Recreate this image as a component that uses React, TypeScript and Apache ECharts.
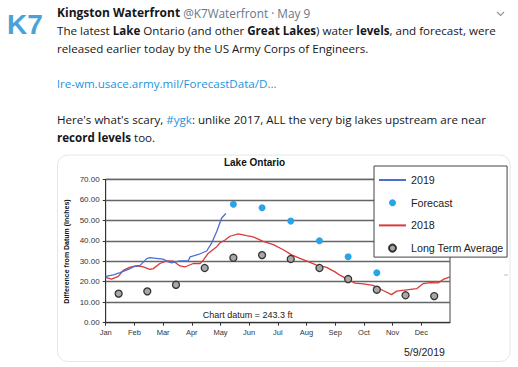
import React, { useEffect, useRef } from "react";
import * as echarts from "echarts";

const months = ["Jan", "Feb", "Mar", "Apr", "May", "Jun", "Jul", "Aug", "Sep", "Oct", "Nov", "Dec"];
const yTicks = [0, 10, 20, 30, 40, 50, 60, 70];

// 2019 observed (x in months since Jan 1)
const obs2019X = [0, 0.27, 0.5, 0.79, 0.96, 1.2, 1.43, 1.54, 1.83, 2.0, 2.18, 2.3, 2.59, 2.88, 2.94, 3.23, 3.52, 3.69, 3.87, 4.04, 4.19];
const obs2019Y = [22.6, 23.4, 24.4, 26, 27.2, 28, 31.3, 31.8, 31.3, 31, 29.7, 29.2, 30.2, 30.2, 32.1, 33.3, 35, 38.8, 44.5, 51.1, 53.3];

// 2018
const obs2018X = [0, 0.2, 0.44, 0.61, 0.85, 1.08, 1.31, 1.54, 1.66, 1.89, 2.12, 2.36, 2.59, 2.76, 3.05, 3.29, 3.4, 3.57, 3.87, 3.98, 4.16, 4.33, 4.62, 4.91, 5.14, 5.49, 5.84, 6.19, 6.48, 6.77, 7.06, 7.35, 7.7, 7.99, 8.16, 8.4, 8.69, 8.98, 9.32, 9.67, 9.96, 10.14, 10.49, 10.84, 11.07, 11.3, 11.59, 11.76, 12];
const obs2018Y = [22.1, 21.3, 22.6, 25.5, 27.1, 27.8, 27.2, 26, 26.4, 28.9, 30.2, 30, 27.7, 27.2, 28.9, 28.9, 30.5, 33.8, 37.1, 38.9, 40.4, 42.2, 43.4, 42.5, 41.9, 39.7, 38.1, 35.6, 33.1, 31.4, 29.8, 28.1, 27, 24.8, 23.2, 21.5, 19.3, 19, 18.2, 15.7, 13.7, 15.4, 16, 16.6, 19.1, 19.6, 19.4, 21.1, 22.4];

// Forecast (May..Oct)
const forecastMonths = ["May", "Jun", "Jul", "Aug", "Sep", "Oct"];
const forecastValues = [57.8, 56.1, 49.6, 40.0, 32.2, 24.4];

// Long term average (Jan..Dec)
const ltaValues = [14.2, 15.3, 18.5, 26.7, 31.7, 33.0, 31.1, 26.7, 21.3, 16.1, 13.4, 13.0];

const MID = 0.45; // mid-month position

const TF = "'Open Sans', 'Noto Sans', sans-serif";
const CF = "'Liberation Sans', Arial, sans-serif";

export default function App() {
  const ref = useRef<HTMLDivElement>(null);
  useEffect(() => {
    if (!ref.current) return;
    const chart = echarts.init(ref.current, undefined, { renderer: "svg" });
    const pair = (xs: number[], ys: number[]) => xs.map((x, i) => [x, ys[i]]);
    const forecastData = forecastMonths.map((m, i) => [months.indexOf(m) + MID, forecastValues[i]]);
    const ltaData = ltaValues.map((v, i) => [i + MID, v]);

    const dark = "#14171a";
    const gray = "#657786";
    const link = "#1b95e0";
    const fs = 11.6;
    const rich = {
      n: { fontFamily: TF, fontSize: fs, fill: dark },
      b: { fontFamily: TF, fontSize: fs, fill: dark, fontWeight: "bold" as const },
      l: { fontFamily: TF, fontSize: fs, fill: link },
      g: { fontFamily: TF, fontSize: 11.8, fill: gray },
      h: { fontFamily: TF, fontSize: 12, fill: dark, fontWeight: "bold" as const },
    };
    const tline = (y: number, text: string) => ({
      type: "text",
      x: 57,
      y,
      style: { text, rich, verticalAlign: "middle", font: `${fs}px ${TF}`, fill: dark },
    });

    const noSymbol = { opacity: 0 };

    chart.setOption({
      animation: false,
      backgroundColor: "#fff",
      grid: { left: 105.7, top: 179.3, right: 68, bottom: 44.3, show: true, borderColor: "#444", borderWidth: 1, backgroundColor: "transparent" },
      xAxis: {
        type: "value",
        min: 0,
        max: 12,
        interval: 1,
        axisLine: { show: true, lineStyle: { color: "#333", width: 1 } },
        axisTick: { show: true, length: 3, lineStyle: { color: "#333" } },
        splitLine: { show: false },
        axisLabel: {
          fontSize: 7.5,
          fontFamily: CF,
          color: "#333",
          margin: 6,
          showMaxLabel: false,
          formatter: (v: number) => (v < 12 ? months[v] : ""),
        },
      },
      yAxis: {
        type: "value",
        min: yTicks[0],
        max: yTicks[yTicks.length - 1],
        interval: 10,
        axisLine: { show: true, lineStyle: { color: "#333", width: 1 } },
        axisTick: { show: true, length: 3, lineStyle: { color: "#333" } },
        splitLine: { show: true, lineStyle: { color: "#666", width: 1.3 } },
        axisLabel: { fontSize: 8, fontFamily: CF, color: "#333", margin: 6, formatter: (v: number) => v.toFixed(2) },
      },
      legend: {
        orient: "vertical",
        left: 374,
        top: 166,
        padding: [7, 3, 2, 4],
        itemGap: 8.7,
        itemWidth: 27,
        itemHeight: 7,
        backgroundColor: "#fff",
        borderColor: "#444",
        borderWidth: 1,
        borderRadius: 0,
        textStyle: { fontSize: 10.7, lineHeight: 14, fontFamily: CF, color: "#222" },
        data: [
          { name: "2019", itemStyle: noSymbol },
          { name: "Forecast", icon: "circle" },
          { name: "2018", itemStyle: noSymbol },
          { name: "Long Term Average", icon: "circle" },
        ],
      },
      series: [
        {
          name: "2019",
          type: "line",
          data: pair(obs2019X, obs2019Y),
          symbol: "none",
          lineStyle: { color: "#4a6fd1", width: 1.3 },
          itemStyle: { color: "#4a6fd1" },
          z: 3,
        },
        {
          name: "Forecast",
          type: "scatter",
          data: forecastData,
          symbol: "circle",
          symbolSize: 7,
          itemStyle: { color: "#29a3ea", opacity: 1 },
          z: 4,
        },
        {
          name: "2018",
          type: "line",
          data: pair(obs2018X, obs2018Y),
          symbol: "none",
          lineStyle: { color: "#d93a3a", width: 1.3 },
          itemStyle: { color: "#d93a3a" },
          z: 2,
        },
        {
          name: "Long Term Average",
          type: "scatter",
          data: ltaData,
          symbol: "circle",
          symbolSize: 7,
          itemStyle: { color: "#a8a8a8", borderColor: "#333", borderWidth: 1.3, opacity: 1 },
          z: 4,
        },
      ],
      graphic: [
        {
          type: "rect",
          shape: { x: 57.5, y: 155, width: 452.5, height: 206.5, r: 10 },
          style: { fill: "none", stroke: "#e1e8ed", lineWidth: 1 },
          z: 0,
        },
        {
          type: "text",
          x: 7,
          y: 24,
          style: { text: "K7", font: `bold 28px ${CF}`, verticalAlign: "middle", fill: "#4aa3d8" },
        },
        tline(12.5, "{h|Kingston Waterfront} {g|@K7Waterfront · May 9}"),
        tline(30, "{n|The latest }{b|Lake}{n| Ontario (and other }{b|Great Lakes}{n|) water }{b|levels}{n|, and forecast, were}"),
        tline(48, "{n|released earlier today by the US Army Corps of Engineers.}"),
        tline(83, "{l|lre-wm.usace.army.mil/ForecastData/D…}"),
        tline(119, "{n|Here's what's scary, }{l|#ygk}{n|: unlike 2017, ALL the very big lakes upstream are near}"),
        tline(137, "{b|record levels}{n| too.}"),
        {
          type: "polyline",
          shape: { points: [[497, 12], [500.5, 15.5], [504, 12]] },
          style: { stroke: "#8899a6", lineWidth: 1.2, fill: "none" },
        },
        {
          type: "text",
          x: 254.5,
          y: 162,
          style: { text: "Lake Ontario", font: `bold 10px ${CF}`, fill: "#111", align: "center", verticalAlign: "middle" },
        },
        {
          type: "text",
          x: 66,
          y: 251.5,
          rotation: Math.PI / 2,
          style: { text: "Difference from Datum (Inches)", font: `bold 7px ${CF}`, fill: "#111", align: "center", verticalAlign: "middle" },
        },
        {
          type: "text",
          x: 202.7,
          y: 315,
          style: { text: "Chart datum = 243.3 ft", font: `9px ${CF}`, fill: "#222", verticalAlign: "middle" },
        },
        {
          type: "text",
          x: 404,
          y: 352,
          style: { text: "5/9/2019", font: `10.5px ${CF}`, fill: "#222", verticalAlign: "middle" },
        },
        {
          type: "line",
          shape: { x1: 504, y1: 275, x2: 508, y2: 275 },
          style: { stroke: "#bbb", lineWidth: 1 },
        },
      ],
    });
    return () => chart.dispose();
  }, []);
  return <div ref={ref} style={{ position: "absolute", left: 0, top: 0, width: 518, height: 367 }} />;
}
